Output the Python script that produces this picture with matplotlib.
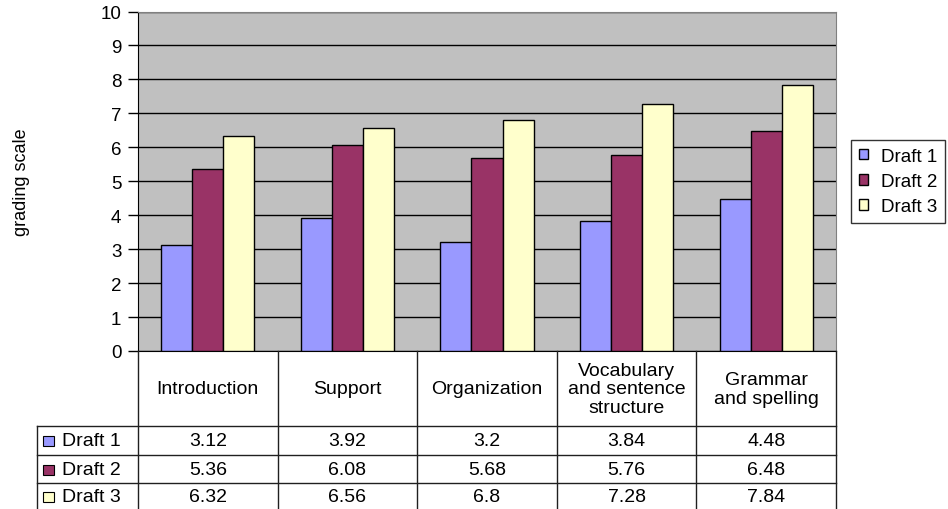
import matplotlib
matplotlib.use("Agg")
import matplotlib.pyplot as plt
import numpy as np
from matplotlib.patches import Rectangle

plt.rcParams['font.family'] = ['Liberation Sans', 'DejaVu Sans']

categories = ["Introduction", "Support", "Organization",
              "Vocabulary\nand sentence\nstructure", "Grammar\nand spelling"]
series_names = ["Draft 1", "Draft 2", "Draft 3"]
draft1 = [3.12, 3.92, 3.2, 3.84, 4.48]
draft2 = [5.36, 6.08, 5.68, 5.76, 6.48]
draft3 = [6.32, 6.56, 6.8, 7.28, 7.84]
draft1_labels = ["3.12", "3.92", "3.2", "3.84", "4.48"]
draft2_labels = ["5.36", "6.08", "5.68", "5.76", "6.48"]
draft3_labels = ["6.32", "6.56", "6.8", "7.28", "7.84"]
y_ticks = list(range(0, 11))
y_label = "grading scale"

series = [draft1, draft2, draft3]
series_labels = [draft1_labels, draft2_labels, draft3_labels]
colors = ["#9999FF", "#993366", "#FFFFCC"]

W, H = 948, 510
fig = plt.figure(figsize=(W / 100, H / 100), dpi=100)

L, R, T, B = 138, 836, 12.5, 352
ax = fig.add_axes([L / W, 1 - B / H, (R - L) / W, (B - T) / H])
ax.set_facecolor("#C0C0C0")
x = np.arange(len(categories))
bw = 2 / 9
for i, (vals, name, c) in enumerate(zip(series, series_names, colors)):
    ax.bar(x + (i - 1) * bw, vals, width=bw, color=c, edgecolor="black",
           linewidth=1, label=name, zorder=3)
ax.set_xlim(-0.5, len(categories) - 0.5)
ax.set_ylim(0, 10)
ax.set_yticks(y_ticks)
ax.set_yticklabels([str(t) for t in y_ticks], fontsize=13.5)
ax.yaxis.grid(True, color="black", linewidth=1, zorder=1)
ax.set_axisbelow(True)
ax.set_xticks([])
ax.tick_params(axis='y', length=7, width=1, pad=5, direction='out')
for s in ["top", "right"]:
    ax.spines[s].set_color("#808080")
ax.spines["left"].set_color("black")
ax.spines["bottom"].set_color("black")
ax.set_ylabel(y_label, fontsize=13, labelpad=0)
ax.yaxis.set_label_coords(-(L - 30) / (R - L), 0.5)

# legend
leg = fig.legend(loc="upper left", bbox_to_anchor=(851 / W, 1 - 141 / H),
                 borderaxespad=0, frameon=True, fancybox=False,
                 fontsize=13.5, handlelength=0.5, handleheight=0.5,
                 handletextpad=0.7, labelspacing=0.45, borderpad=0.4)
leg.get_frame().set_edgecolor("black")
leg.get_frame().set_linewidth(1)

# data table
axt = fig.add_axes([L / W, 0, (R - L) / W, (H - B) / H])
axt.set_xlim(-0.5, len(categories) - 0.5)
axt.set_ylim(H - B, 0)
axt.axis("off")
ppu = (R - L) / len(categories)
left_x = -0.5 - (L - 37) / ppu
row_lines = [75, 104, 132]
row_centers = [90, 118.5, 146]
lc = "#202020"
for yl in row_lines:
    axt.plot([left_x, len(categories) - 0.5], [yl, yl], color=lc, lw=1, clip_on=False)
for k in range(len(categories) + 1):
    axt.plot([k - 0.5, k - 0.5], [0, H - B], color=lc, lw=1, clip_on=False)
axt.plot([left_x, left_x], [row_lines[0], H - B], color=lc, lw=1, clip_on=False)
for k, cat in enumerate(categories):
    axt.text(k, 38, cat, ha="center", va="center", fontsize=14, linespacing=1.12)
sq = 11 / ppu
for r, (name, c, labs) in enumerate(zip(series_names, colors, series_labels)):
    yc = row_centers[r]
    axt.add_patch(Rectangle((left_x + 6 / ppu, yc - 5), sq, 10, facecolor=c,
                            edgecolor="black", lw=0.8, clip_on=False))
    axt.text(left_x + 25 / ppu, yc, name, ha="left", va="center", fontsize=14)
    for k, lab in enumerate(labs):
        axt.text(k, yc, lab, ha="center", va="center", fontsize=14)

fig.savefig("out.png", dpi=100)
